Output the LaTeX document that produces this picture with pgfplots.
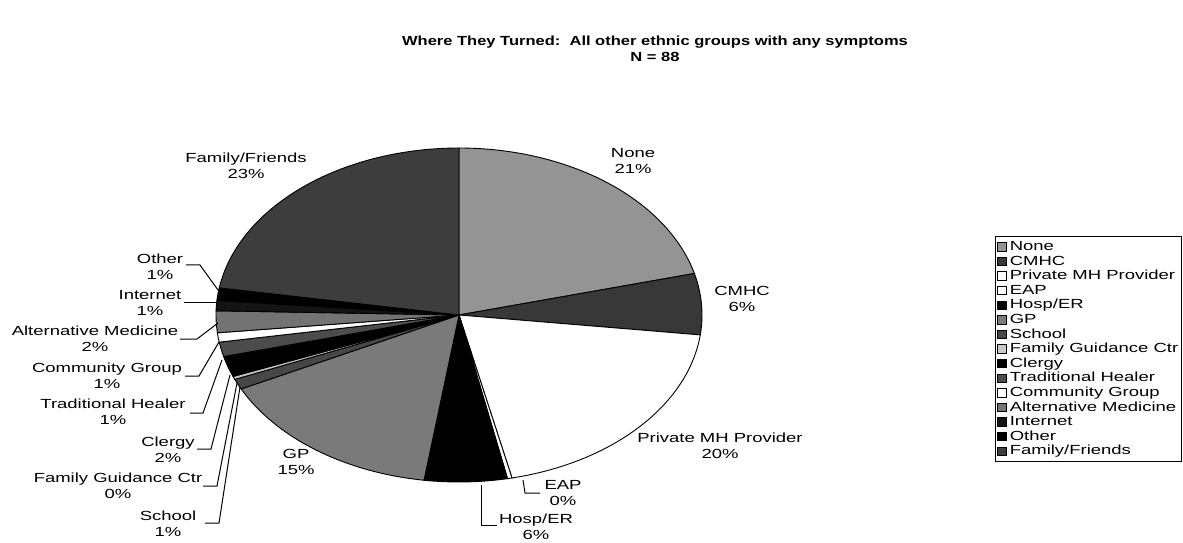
\documentclass[border=0pt]{standalone}
\usepackage{pgfplots}
\usepackage{pgfplotstable}
\pgfplotsset{compat=1.18}
\usepackage{fontspec}
\newfontfamily\lblfont[FakeStretch=1.4]{Liberation Sans}
\newfontfamily\ttlfont[FakeStretch=1.25]{Liberation Sans}
\newcommand\lbl{\lblfont\fontsize{6.6}{7.6}\selectfont}
\newcommand\ttl{\ttlfont\bfseries\fontsize{6.6}{7.6}\selectfont}

\pgfplotstableread[col sep=comma]{
label,value,fill
None,21.0,black!42
CMHC,5.9,black!78
Private MH Provider,19.6,white
EAP,0.3,white
Hosp/ER,5.5,black
GP,15.4,black!52
School,1.0,black!72
Family Guidance Ctr,0.3,black!22
Clergy,2.0,black
Traditional Healer,1.4,black!70
Community Group,0.9,white
Alternative Medicine,2.1,black!55
Internet,1.0,black!92
Other,1.2,black
Family/Friends,22.4,black!76
}\piedata

\begin{document}
\begin{tikzpicture}
\useasboundingbox (0,0) rectangle (591.5pt,271pt);
\begin{axis}[
  at={(0,0)}, anchor=south west,
  x=0.5pt, y=0.5pt,
  xmin=0, xmax=1183, ymin=0, ymax=542,
  hide axis, clip=false,
  legend cell align=left,
  legend image code/.code={\draw[#1,draw=black,line width=0.3pt] (0pt,-2.1pt) rectangle (4.2pt,2.1pt);},
  legend style={at={(axis cs:995,306)}, anchor=north west, font=\lbl,
    draw=black, line width=0.4pt, inner xsep=1pt, inner ysep=1.5pt,
    row sep=0pt,
    nodes={inner sep=0.6pt, text height=4.9pt, text depth=1.2pt},
    legend columns=1},
]
\pgfplotstablegetrowsof{\piedata}
\pgfmathtruncatemacro\nlast{\pgfplotsretval-1}
\def\total{0}
\pgfplotsforeachungrouped \i in {0,...,\nlast}{%
  \pgfplotstablegetelem{\i}{value}\of\piedata
  \pgfmathsetmacro\total{\total+\pgfplotsretval}%
}
\def\cum{0}
\pgfplotsforeachungrouped \i in {0,...,\nlast}{%
  \pgfplotstablegetelem{\i}{value}\of\piedata \let\v\pgfplotsretval
  \pgfplotstablegetelem{\i}{fill}\of\piedata \let\f\pgfplotsretval
  \pgfplotstablegetelem{\i}{label}\of\piedata \let\l\pgfplotsretval
  \pgfmathsetmacro\astart{90-(\cum/\total)*360}%
  \pgfmathsetmacro\cum{\cum+\v}%
  \pgfmathsetmacro\aend{90-(\cum/\total)*360}%
  \edef\temp{\noexpand\addplot[fill=\f, draw=black, line width=0.45pt, domain=\aend:\astart, samples=60, variable=\noexpand\t] ({459+243*cos(\noexpand\t)},{227+167*sin(\noexpand\t)}) -- (axis cs:459,227) -- cycle; \noexpand\addlegendentry{\,\l}}%
  \temp
}

% title
\node[font=\ttl] at (axis cs:655,500) {Where They Turned:\ \ All other ethnic groups with any symptoms};
\node[font=\ttl] at (axis cs:655,485) {N = 88};

% labels
\tikzset{lab/.style={font=\lbl, align=center, inner sep=0pt}}
\node[lab] at (axis cs:633,381) {None\\[0.5pt]21\%};
\node[lab] at (axis cs:742,243) {CMHC\\[0.5pt]6\%};
\node[lab] at (axis cs:720,96) {Private MH Provider\\[0.5pt]20\%};
\node[lab] at (axis cs:563,49) {EAP\\[0.5pt]0\%};
\node[lab] at (axis cs:536,15) {Hosp/ER\\[0.5pt]6\%};
\node[lab] at (axis cs:296,80) {GP\\[0.5pt]15\%};
\node[lab] at (axis cs:246,376) {Family/Friends\\[0.5pt]23\%};
\node[lab] at (axis cs:160,275) {Other\\[0.5pt]1\%};
\node[lab] at (axis cs:150,239) {Internet\\[0.5pt]1\%};
\node[lab] at (axis cs:95,203) {Alternative Medicine\\[0.5pt]2\%};
\node[lab] at (axis cs:107,166) {Community Group\\[0.5pt]1\%};
\node[lab] at (axis cs:113,130) {Traditional Healer\\[0.5pt]1\%};
\node[lab] at (axis cs:168,92) {Clergy\\[0.5pt]2\%};
\node[lab] at (axis cs:118,56) {Family Guidance Ctr\\[0.5pt]0\%};
\node[lab] at (axis cs:168,18) {School\\[0.5pt]1\%};

% leader lines
\tikzset{lead/.style={draw=black, line width=0.5pt}}
\draw[lead] (axis cs:186,277) -- (axis cs:200,277) -- (axis cs:218,252);
\draw[lead] (axis cs:184,239) -- (axis cs:217,239);
\draw[lead] (axis cs:180,203) -- (axis cs:197,203) -- (axis cs:218,219);
\draw[lead] (axis cs:185,166) -- (axis cs:199,166) -- (axis cs:219,200);
\draw[lead] (axis cs:190,129) -- (axis cs:203,129) -- (axis cs:222,182);
\draw[lead] (axis cs:197,93) -- (axis cs:211,93) -- (axis cs:230,167);
\draw[lead] (axis cs:203,56) -- (axis cs:217,56) -- (axis cs:237,159);
\draw[lead] (axis cs:205,19) -- (axis cs:219,19) -- (axis cs:240,155);
\draw[lead] (axis cs:523,62) -- (axis cs:525,49) -- (axis cs:540,49);
\draw[lead] (axis cs:481,57) -- (axis cs:481,17) -- (axis cs:497,17);
\end{axis}
\end{tikzpicture}
\end{document}
